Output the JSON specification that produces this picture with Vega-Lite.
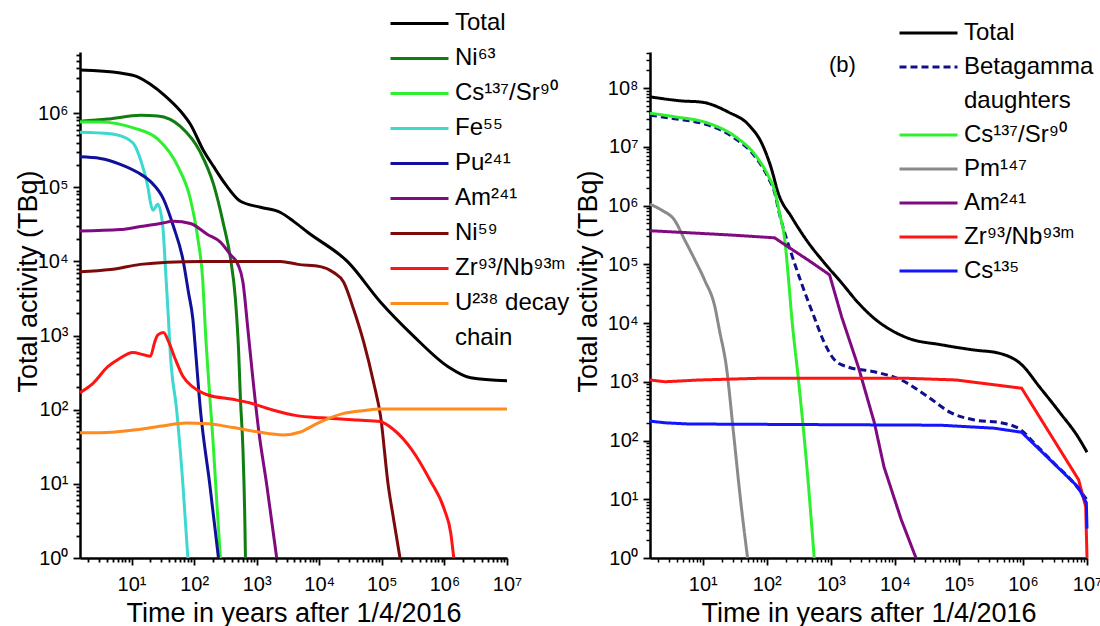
{
  "$schema": "https://vega.github.io/schema/vega-lite/v6.json",
  "background": "white",
  "autosize": {"type": "pad"},
  "padding": {"left": 14, "top": 7, "right": 0, "bottom": 0},
  "datasets": {
    "a": [
      {"s":"Total","t":1.5,"v":3.8e6},{"s":"Total","t":6.67,"v":3.47e6},{"s":"Total","t":12.5,"v":3.09e6},{"s":"Total","t":20,"v":2.45e6},{"s":"Total","t":34.7,"v":1.7e6},{"s":"Total","t":60.3,"v":1.07e6},{"s":"Total","t":87.1,"v":7.08e5},{"s":"Total","t":138,"v":3.24e5},{"s":"Total","t":204,"v":1.91e5},{"s":"Total","t":316,"v":1.1e5},{"s":"Total","t":550,"v":6.46e4},{"s":"Total","t":1148,"v":5.37e4},{"s":"Total","t":2399,"v":4.57e4},{"s":"Total","t":3890,"v":3.47e4},{"s":"Total","t":6607,"v":2.45e4},{"s":"Total","t":28840,"v":9770},{"s":"Total","t":95500,"v":2818},{"s":"Total","t":324000,"v":977},{"s":"Total","t":1148000,"v":380},{"s":"Total","t":2630000,"v":269},{"s":"Total","t":10000000,"v":245},
      {"s":"Ni⁶³","t":1.5,"v":7.76e5},{"s":"Ni⁶³","t":4.13,"v":8.32e5},{"s":"Ni⁶³","t":13.9,"v":9.33e5},{"s":"Ni⁶³","t":26.3,"v":9.12e5},{"s":"Ni⁶³","t":60.3,"v":6.61e5},{"s":"Ni⁶³","t":126,"v":2.95e5},{"s":"Ni⁶³","t":204,"v":1.1e5},{"s":"Ni⁶³","t":295,"v":3.16e4},{"s":"Ni⁶³","t":380,"v":1.12e4},{"s":"Ni⁶³","t":457,"v":3090},{"s":"Ni⁶³","t":513,"v":646},{"s":"Ni⁶³","t":550,"v":138},{"s":"Ni⁶³","t":603,"v":28.8},{"s":"Ni⁶³","t":646,"v":3.24},{"s":"Ni⁶³","t":661,"v":1},
      {"s":"Cs¹³⁷/Sr⁹⁰","t":1.5,"v":7.59e5},{"s":"Cs¹³⁷/Sr⁹⁰","t":3.16,"v":7.59e5},{"s":"Cs¹³⁷/Sr⁹⁰","t":10.7,"v":6.31e5},{"s":"Cs¹³⁷/Sr⁹⁰","t":26.3,"v":4.47e5},{"s":"Cs¹³⁷/Sr⁹⁰","t":55,"v":1.91e5},{"s":"Cs¹³⁷/Sr⁹⁰","t":87.1,"v":6.92e4},{"s":"Cs¹³⁷/Sr⁹⁰","t":115,"v":2.0e4},{"s":"Cs¹³⁷/Sr⁹⁰","t":138,"v":5250},{"s":"Cs¹³⁷/Sr⁹⁰","t":151,"v":1202},{"s":"Cs¹³⁷/Sr⁹⁰","t":170,"v":257},{"s":"Cs¹³⁷/Sr⁹⁰","t":200,"v":38.9},{"s":"Cs¹³⁷/Sr⁹⁰","t":229,"v":6.03},{"s":"Cs¹³⁷/Sr⁹⁰","t":263,"v":1},
      {"s":"Fe⁵⁵","t":1.5,"v":5.5e5},{"s":"Fe⁵⁵","t":4.57,"v":5.25e5},{"s":"Fe⁵⁵","t":8.71,"v":4.47e5},{"s":"Fe⁵⁵","t":11.5,"v":3.55e5},{"s":"Fe⁵⁵","t":13.8,"v":2.4e5},{"s":"Fe⁵⁵","t":18.2,"v":1.02e5},{"s":"Fe⁵⁵","t":20,"v":6.31e4},{"s":"Fe⁵⁵","t":21.9,"v":4.9e4},{"s":"Fe⁵⁵","t":26.3,"v":5.89e4},{"s":"Fe⁵⁵","t":31.6,"v":2.95e4},{"s":"Fe⁵⁵","t":34.7,"v":8510},{"s":"Fe⁵⁵","t":38.9,"v":1660},{"s":"Fe⁵⁵","t":41.7,"v":562},{"s":"Fe⁵⁵","t":52.5,"v":100},{"s":"Fe⁵⁵","t":66.1,"v":10},{"s":"Fe⁵⁵","t":79.4,"v":1},
      {"s":"Pu²⁴¹","t":1.5,"v":2.57e5},{"s":"Pu²⁴¹","t":3.16,"v":2.45e5},{"s":"Pu²⁴¹","t":6.61,"v":2.04e5},{"s":"Pu²⁴¹","t":12.6,"v":1.58e5},{"s":"Pu²⁴¹","t":20,"v":1.2e5},{"s":"Pu²⁴¹","t":32.4,"v":6.92e4},{"s":"Pu²⁴¹","t":46.8,"v":2.95e4},{"s":"Pu²⁴¹","t":66.1,"v":1.07e4},{"s":"Pu²⁴¹","t":81.3,"v":3800},{"s":"Pu²⁴¹","t":95.5,"v":1660},{"s":"Pu²⁴¹","t":105,"v":646},{"s":"Pu²⁴¹","t":126,"v":100},{"s":"Pu²⁴¹","t":178,"v":9.77},{"s":"Pu²⁴¹","t":245,"v":1},
      {"s":"Am²⁴¹","t":1.5,"v":2.57e4},{"s":"Am²⁴¹","t":6.61,"v":2.69e4},{"s":"Am²⁴¹","t":13.8,"v":2.95e4},{"s":"Am²⁴¹","t":28.8,"v":3.24e4},{"s":"Am²⁴¹","t":46.8,"v":3.47e4},{"s":"Am²⁴¹","t":87.1,"v":3.24e4},{"s":"Am²⁴¹","t":166,"v":2.29e4},{"s":"Am²⁴¹","t":263,"v":1.82e4},{"s":"Am²⁴¹","t":380,"v":1.23e4},{"s":"Am²⁴¹","t":501,"v":9120},{"s":"Am²⁴¹","t":603,"v":5250},{"s":"Am²⁴¹","t":724,"v":1202},{"s":"Am²⁴¹","t":871,"v":257},{"s":"Am²⁴¹","t":1072,"v":53.7},{"s":"Am²⁴¹","t":1445,"v":9.77},{"s":"Am²⁴¹","t":2089,"v":1},
      {"s":"Ni⁵⁹","t":1.5,"v":7244},{"s":"Ni⁵⁹","t":4.57,"v":7762},{"s":"Ni⁵⁹","t":13.8,"v":9120},{"s":"Ni⁵⁹","t":38,"v":9772},{"s":"Ni⁵⁹","t":126,"v":10000},{"s":"Ni⁵⁹","t":2399,"v":10000},{"s":"Ni⁵⁹","t":4571,"v":9120},{"s":"Ni⁵⁹","t":10470,"v":8511},{"s":"Ni⁵⁹","t":16980,"v":7079},{"s":"Ni⁵⁹","t":24550,"v":5248},{"s":"Ni⁵⁹","t":35480,"v":2239},{"s":"Ni⁵⁹","t":51290,"v":813},{"s":"Ni⁵⁹","t":74130,"v":229},{"s":"Ni⁵⁹","t":95500,"v":81.3},{"s":"Ni⁵⁹","t":126000,"v":9.77},{"s":"Ni⁵⁹","t":155000,"v":3.24},{"s":"Ni⁵⁹","t":195000,"v":1},
      {"s":"Zr⁹³/Nb⁹³ᵐ","t":1.5,"v":170},{"s":"Zr⁹³/Nb⁹³ᵐ","t":2.45,"v":229},{"s":"Zr⁹³/Nb⁹³ᵐ","t":4.17,"v":380},{"s":"Zr⁹³/Nb⁹³ᵐ","t":6.17,"v":479},{"s":"Zr⁹³/Nb⁹³ᵐ","t":10.5,"v":589},{"s":"Zr⁹³/Nb⁹³ᵐ","t":15.5,"v":550},{"s":"Zr⁹³/Nb⁹³ᵐ","t":20,"v":525},{"s":"Zr⁹³/Nb⁹³ᵐ","t":23.4,"v":813},{"s":"Zr⁹³/Nb⁹³ᵐ","t":26.3,"v":1023},{"s":"Zr⁹³/Nb⁹³ᵐ","t":32.4,"v":1096},{"s":"Zr⁹³/Nb⁹³ᵐ","t":38.9,"v":832},{"s":"Zr⁹³/Nb⁹³ᵐ","t":50.1,"v":479},{"s":"Zr⁹³/Nb⁹³ᵐ","t":66.1,"v":282},{"s":"Zr⁹³/Nb⁹³ᵐ","t":97.7,"v":200},{"s":"Zr⁹³/Nb⁹³ᵐ","t":166,"v":158},{"s":"Zr⁹³/Nb⁹³ᵐ","t":417,"v":138},{"s":"Zr⁹³/Nb⁹³ᵐ","t":794,"v":123},{"s":"Zr⁹³/Nb⁹³ᵐ","t":1738,"v":100},{"s":"Zr⁹³/Nb⁹³ᵐ","t":4365,"v":83.2},{"s":"Zr⁹³/Nb⁹³ᵐ","t":10960,"v":77.6},{"s":"Zr⁹³/Nb⁹³ᵐ","t":41690,"v":72.4},{"s":"Zr⁹³/Nb⁹³ᵐ","t":93300,"v":69.2},{"s":"Zr⁹³/Nb⁹³ᵐ","t":155000,"v":53.7},{"s":"Zr⁹³/Nb⁹³ᵐ","t":302000,"v":28.8},{"s":"Zr⁹³/Nb⁹³ᵐ","t":589000,"v":11.2},{"s":"Zr⁹³/Nb⁹³ᵐ","t":1000000,"v":4.47},{"s":"Zr⁹³/Nb⁹³ᵐ","t":1260000,"v":2.19},{"s":"Zr⁹³/Nb⁹³ᵐ","t":1410000,"v":1},
      {"s":"U²³⁸ decay","t":1.5,"v":49},{"s":"U²³⁸ decay","t":3.16,"v":49},{"s":"U²³⁸ decay","t":12,"v":53.7},{"s":"U²³⁸ decay","t":30.2,"v":60.3},{"s":"U²³⁸ decay","t":75.9,"v":66.1},{"s":"U²³⁸ decay","t":166,"v":64.6},{"s":"U²³⁸ decay","t":417,"v":57.5},{"s":"U²³⁸ decay","t":1047,"v":50.1},{"s":"U²³⁸ decay","t":2630,"v":45.7},{"s":"U²³⁸ decay","t":5012,"v":50.1},{"s":"U²³⁸ decay","t":8511,"v":63.1},{"s":"U²³⁸ decay","t":14790,"v":77.6},{"s":"U²³⁸ decay","t":24550,"v":89.1},{"s":"U²³⁸ decay","t":53700,"v":97.7},{"s":"U²³⁸ decay","t":93300,"v":102},{"s":"U²³⁸ decay","t":10000000,"v":102}
    ],
    "b": [
      {"s":"Total","t":1.5,"v":7.08e7},{"s":"Total","t":4.68,"v":6.03e7},{"s":"Total","t":9.55,"v":5.75e7},{"s":"Total","t":25.1,"v":3.89e7},{"s":"Total","t":52.5,"v":2.34e7},{"s":"Total","t":83.2,"v":1.15e7},{"s":"Total","t":117,"v":4.37e6},{"s":"Total","t":151,"v":1.62e6},{"s":"Total","t":245,"v":6.31e5},{"s":"Total","t":417,"v":2.57e5},{"s":"Total","t":794,"v":1.05e5},{"s":"Total","t":1479,"v":4.79e4},{"s":"Total","t":2692,"v":2.19e4},{"s":"Total","t":5129,"v":1.12e4},{"s":"Total","t":8710,"v":7586},{"s":"Total","t":16220,"v":5495},{"s":"Total","t":52480,"v":4266},{"s":"Total","t":174000,"v":3467},{"s":"Total","t":407000,"v":3090},{"s":"Total","t":955000,"v":1950},{"s":"Total","t":1820000,"v":813},{"s":"Total","t":3800000,"v":295},{"s":"Total","t":7240000,"v":115},{"s":"Total","t":10000000,"v":63.1},
      {"s":"Betagamma","t":1.5,"v":3.45e7},{"s":"Betagamma","t":3.63,"v":3.0e7},{"s":"Betagamma","t":12.3,"v":2.33e7},{"s":"Betagamma","t":31.6,"v":1.4e7},{"s":"Betagamma","t":69.2,"v":6.3e6},{"s":"Betagamma","t":107,"v":2.87e6},{"s":"Betagamma","t":132,"v":1.69e6},{"s":"Betagamma","t":158,"v":7.1e5},{"s":"Betagamma","t":191,"v":3.39e5},{"s":"Betagamma","t":245,"v":1.45e5},{"s":"Betagamma","t":347,"v":4.79e4},{"s":"Betagamma","t":550,"v":1.26e4},{"s":"Betagamma","t":794,"v":4571},{"s":"Betagamma","t":1148,"v":2344},{"s":"Betagamma","t":1862,"v":1778},{"s":"Betagamma","t":4786,"v":1479},{"s":"Betagamma","t":12590,"v":1072},{"s":"Betagamma","t":33110,"v":550},{"s":"Betagamma","t":75860,"v":295},{"s":"Betagamma","t":174000,"v":224},{"s":"Betagamma","t":457000,"v":200},{"s":"Betagamma","t":933000,"v":151},{"s":"Betagamma","t":1480000,"v":91.2},{"s":"Betagamma","t":3020000,"v":41.7},{"s":"Betagamma","t":5620000,"v":21.4},{"s":"Betagamma","t":10000000,"v":9.77},
      {"s":"Cs¹³⁷/Sr⁹⁰","t":1.5,"v":3.72e7},{"s":"Cs¹³⁷/Sr⁹⁰","t":3.63,"v":3.24e7},{"s":"Cs¹³⁷/Sr⁹⁰","t":12.3,"v":2.51e7},{"s":"Cs¹³⁷/Sr⁹⁰","t":31.6,"v":1.51e7},{"s":"Cs¹³⁷/Sr⁹⁰","t":69.2,"v":6.76e6},{"s":"Cs¹³⁷/Sr⁹⁰","t":107,"v":3.09e6},{"s":"Cs¹³⁷/Sr⁹⁰","t":132,"v":1.82e6},{"s":"Cs¹³⁷/Sr⁹⁰","t":158,"v":7.41e5},{"s":"Cs¹³⁷/Sr⁹⁰","t":191,"v":2.57e5},{"s":"Cs¹³⁷/Sr⁹⁰","t":219,"v":5.37e4},{"s":"Cs¹³⁷/Sr⁹⁰","t":245,"v":1.26e4},{"s":"Cs¹³⁷/Sr⁹⁰","t":316,"v":955},{"s":"Cs¹³⁷/Sr⁹⁰","t":417,"v":41.7},{"s":"Cs¹³⁷/Sr⁹⁰","t":550,"v":1},
      {"s":"Pm¹⁴⁷","t":1.5,"v":1.05e6},{"s":"Pm¹⁴⁷","t":2.29,"v":8.32e5},{"s":"Pm¹⁴⁷","t":3.63,"v":5.62e5},{"s":"Pm¹⁴⁷","t":5.25,"v":2.57e5},{"s":"Pm¹⁴⁷","t":7.59,"v":1.17e5},{"s":"Pm¹⁴⁷","t":10.7,"v":5.37e4},{"s":"Pm¹⁴⁷","t":15.5,"v":1.86e4},{"s":"Pm¹⁴⁷","t":18.2,"v":7586},{"s":"Pm¹⁴⁷","t":23.4,"v":1778},{"s":"Pm¹⁴⁷","t":30.2,"v":135},{"s":"Pm¹⁴⁷","t":38.9,"v":9.77},{"s":"Pm¹⁴⁷","t":50.1,"v":1},
      {"s":"Am²⁴¹","t":1.5,"v":3.72e5},{"s":"Am²⁴¹","t":7.59,"v":3.39e5},{"s":"Am²⁴¹","t":25.1,"v":3.16e5},{"s":"Am²⁴¹","t":132,"v":2.82e5},{"s":"Am²⁴¹","t":219,"v":1.95e5},{"s":"Am²⁴¹","t":447,"v":1.17e5},{"s":"Am²⁴¹","t":955,"v":6.61e4},{"s":"Am²⁴¹","t":1479,"v":1.26e4},{"s":"Am²⁴¹","t":2692,"v":1778},{"s":"Am²⁴¹","t":4786,"v":200},{"s":"Am²⁴¹","t":6761,"v":35.5},{"s":"Am²⁴¹","t":12590,"v":4.47},{"s":"Am²⁴¹","t":21380,"v":1},
      {"s":"Zr⁹³/Nb⁹³ᵐ","t":1.5,"v":1072},{"s":"Zr⁹³/Nb⁹³ᵐ","t":2.57,"v":1000},{"s":"Zr⁹³/Nb⁹³ᵐ","t":8.91,"v":1072},{"s":"Zr⁹³/Nb⁹³ᵐ","t":83.2,"v":1148},{"s":"Zr⁹³/Nb⁹³ᵐ","t":14450,"v":1148},{"s":"Zr⁹³/Nb⁹³ᵐ","t":91200,"v":1072},{"s":"Zr⁹³/Nb⁹³ᵐ","t":955000,"v":776},{"s":"Zr⁹³/Nb⁹³ᵐ","t":7410000,"v":21.4},{"s":"Zr⁹³/Nb⁹³ᵐ","t":9550000,"v":7.41},{"s":"Zr⁹³/Nb⁹³ᵐ","t":10000000,"v":1},
      {"s":"Cs¹³⁵","t":1.5,"v":214},{"s":"Cs¹³⁵","t":2.57,"v":200},{"s":"Cs¹³⁵","t":6.03,"v":191},{"s":"Cs¹³⁵","t":52480,"v":182},{"s":"Cs¹³⁵","t":355000,"v":162},{"s":"Cs¹³⁵","t":955000,"v":138},{"s":"Cs¹³⁵","t":7240000,"v":16.2},{"s":"Cs¹³⁵","t":9770000,"v":8.71},{"s":"Cs¹³⁵","t":10000000,"v":3.16}
    ]
  },
  "hconcat": [
    {
      "width": 427,
      "height": 506,
      "data": {"name": "a"},
      "mark": {"type": "line", "strokeWidth": 3, "interpolate": "monotone"},
      "encoding": {
        "x": {"field": "t", "type": "quantitative", "scale": {"type": "log", "domain": [1.5, 10000000], "nice": false},
          "axis": {"orient": "bottom", "grid": false, "domain": true, "ticks": true, "domainColor": "black", "domainWidth": 2.5, "tickColor": "black", "tickWidth": 1.8,
            "tickSize": {"condition": {"test": "abs(log(datum.value)/LN10 - round(log(datum.value)/LN10)) < 0.001", "value": 7}, "value": 4},
            "labelColor": "black", "labelFont": "Liberation Sans", "labelFontSize": 20, "labelFlush": false, "labelOverlap": false, "labelPadding": 9,
            "title": "Time in years after 1/4/2016", "titleFont": "Liberation Sans", "titleFontSize": 27, "titleFontWeight": "normal", "titleColor": "black", "titleY": 42, "titleBaseline": "top",
            "values": [2,3,4,5,6,7,8,9,10,20,30,40,50,60,70,80,90,100,200,300,400,500,600,700,800,900,1000,2000,3000,4000,5000,6000,7000,8000,9000,10000,20000,30000,40000,50000,60000,70000,80000,90000,100000,200000,300000,400000,500000,600000,700000,800000,900000,1000000,2000000,3000000,4000000,5000000,6000000,7000000,8000000,9000000,10000000],
            "labelExpr": "abs(log(datum.value)/LN10 - round(log(datum.value)/LN10)) < 0.001 ? '10' + ['⁰','¹','²','³','⁴','⁵','⁶','⁷','⁸','⁹'][round(log(datum.value)/LN10)] : ''"}},
        "y": {"field": "v", "type": "quantitative", "scale": {"type": "log", "domain": [1, 6670000], "nice": false},
          "axis": {"orient": "left", "grid": false, "domain": true, "ticks": true, "domainColor": "black", "domainWidth": 2.5, "tickColor": "black", "tickWidth": 1.8,
            "tickSize": {"condition": {"test": "abs(log(datum.value)/LN10 - round(log(datum.value)/LN10)) < 0.001", "value": 7}, "value": 4},
            "labelColor": "black", "labelFont": "Liberation Sans", "labelFontSize": 20, "labelFlush": false, "labelOverlap": false, "labelPadding": 5,
            "title": "Total activity (TBq)", "titleFont": "Liberation Sans", "titleFontSize": 27, "titleFontWeight": "normal", "titleColor": "black", "titleX": -38, "titleY": 229,
            "values": [1,2,3,4,5,6,7,8,9,10,20,30,40,50,60,70,80,90,100,200,300,400,500,600,700,800,900,1000,2000,3000,4000,5000,6000,7000,8000,9000,10000,20000,30000,40000,50000,60000,70000,80000,90000,100000,200000,300000,400000,500000,600000,700000,800000,900000,1000000,2000000,3000000,4000000,5000000,6000000],
            "labelExpr": "abs(log(datum.value)/LN10 - round(log(datum.value)/LN10)) < 0.001 ? '10' + ['⁰','¹','²','³','⁴','⁵','⁶','⁷','⁸','⁹'][round(log(datum.value)/LN10)] : ''"}},
        "color": {"field": "s", "type": "nominal",
          "scale": {"domain": ["Total","Ni⁶³","Cs¹³⁷/Sr⁹⁰","Fe⁵⁵","Pu²⁴¹","Am²⁴¹","Ni⁵⁹","Zr⁹³/Nb⁹³ᵐ","U²³⁸ decay","chain"],
                    "range": ["#000000","#0f7d0f","#2ef02e","#3dd8cf","#10109a","#800a80","#7d0a0a","#ff1414","#ff8a1e","rgba(0,0,0,0)"]},
          "legend": {"title": null, "orient": "none", "legendX": 309, "legendY": -45, "clipHeight": 32.9}}
      }
    },
    {
      "width": 437,
      "height": 506,
      "resolve": {"axis": {"x": "independent", "y": "independent"}},
      "layer": [
        {
          "data": {"name": "b"},
          "encoding": {
            "x": {"field": "t", "type": "quantitative", "scale": {"type": "log", "domain": [1.5, 10000000], "nice": false},
              "axis": {"orient": "bottom", "grid": false, "domainColor": "black", "domainWidth": 2.5, "tickColor": "black", "tickWidth": 1.8, "tickSize": 7, "labelColor": "black", "labelFont": "Liberation Sans", "labelFontSize": 20, "labelFlush": false, "labelOverlap": false, "labelPadding": 9,
                "title": "Time in years after 1/4/2016", "titleFont": "Liberation Sans", "titleFontSize": 27, "titleFontWeight": "normal", "titleColor": "black", "titleY": 42, "titleBaseline": "top",
                "values": [10,100,1000,10000,100000,1000000,10000000],
                "labelExpr": "'10' + ['⁰','¹','²','³','⁴','⁵','⁶','⁷','⁸','⁹'][round(log(datum.value)/LN10)]"}},
            "y": {"field": "v", "type": "quantitative", "scale": {"type": "log", "domain": [1, 410000000], "nice": false},
              "axis": {"orient": "left", "grid": false, "domainColor": "black", "domainWidth": 2.5, "tickColor": "black", "tickWidth": 1.8, "tickSize": 7, "labelColor": "black", "labelFont": "Liberation Sans", "labelFontSize": 20, "labelFlush": false, "labelOverlap": false, "labelPadding": 5,
                "title": "Total activity (TBq)", "titleFont": "Liberation Sans", "titleFontSize": 27, "titleFontWeight": "normal", "titleColor": "black", "titleX": -48, "titleY": 229,
                "values": [1,10,100,1000,10000,100000,1000000,10000000,100000000],
                "labelExpr": "'10' + ['⁰','¹','²','³','⁴','⁵','⁶','⁷','⁸','⁹'][round(log(datum.value)/LN10)]"}},
            "color": {"field": "s", "type": "nominal",
              "scale": {"domain": ["Total","Betagamma","daughters","Cs¹³⁷/Sr⁹⁰","Pm¹⁴⁷","Am²⁴¹","Zr⁹³/Nb⁹³ᵐ","Cs¹³⁵"],
                        "range": ["#000000","#10108c","rgba(0,0,0,0)","#2ef02e","#8a8a8a","#800a80","#ff1414","#1414ff"]},
              "legend": {"title": null, "orient": "none", "legendX": 248, "legendY": -35, "clipHeight": 31.8}},
            "strokeDash": {"field": "s", "type": "nominal",
              "scale": {"domain": ["Total","Betagamma","daughters","Cs¹³⁷/Sr⁹⁰","Pm¹⁴⁷","Am²⁴¹","Zr⁹³/Nb⁹³ᵐ","Cs¹³⁵"],
                        "range": [[1,0],[7,4],[1,0],[1,0],[1,0],[1,0],[1,0],[1,0]]},
              "legend": {"title": null, "orient": "none", "legendX": 248, "legendY": -35, "clipHeight": 31.8}}
          },
          "layer": [
            {"transform": [{"filter": {"field": "s", "oneOf": ["Total","Betagamma","Cs¹³⁷/Sr⁹⁰","Pm¹⁴⁷"]}}],
             "mark": {"type": "line", "strokeWidth": 3, "interpolate": "monotone"}},
            {"transform": [{"filter": {"field": "s", "oneOf": ["Am²⁴¹","Zr⁹³/Nb⁹³ᵐ","Cs¹³⁵"]}}],
             "mark": {"type": "line", "strokeWidth": 3}}
          ]
        },
        {
          "data": {"values": [{}]},
          "mark": {"type": "text", "fontSize": 22, "font": "Liberation Sans", "color": "#000", "align": "center", "baseline": "middle"},
          "encoding": {
            "x": {"datum": 1514, "type": "quantitative",
              "axis": {"orient": "bottom", "grid": false, "title": null, "labels": false, "domain": false, "tickColor": "black", "tickWidth": 1.5, "tickSize": 4,
                "values": [2,3,4,5,6,7,8,9,20,30,40,50,60,70,80,90,200,300,400,500,600,700,800,900,2000,3000,4000,5000,6000,7000,8000,9000,20000,30000,40000,50000,60000,70000,80000,90000,200000,300000,400000,500000,600000,700000,800000,900000,2000000,3000000,4000000,5000000,6000000,7000000,8000000,9000000]}},
            "y": {"datum": 245000000, "type": "quantitative",
              "axis": {"orient": "left", "grid": false, "title": null, "labels": false, "domain": false, "tickColor": "black", "tickWidth": 1.5, "tickSize": 4,
                "values": [2,3,4,5,6,7,8,9,20,30,40,50,60,70,80,90,200,300,400,500,600,700,800,900,2000,3000,4000,5000,6000,7000,8000,9000,20000,30000,40000,50000,60000,70000,80000,90000,200000,300000,400000,500000,600000,700000,800000,900000,2000000,3000000,4000000,5000000,6000000,7000000,8000000,9000000,20000000,30000000,40000000,50000000,60000000,70000000,80000000,90000000,200000000,300000000,400000000]}},
            "text": {"value": "(b)"}
          }
        }
      ]
    }
  ],
  "spacing": 143,
  "bounds": "flush",
  "resolve": {"scale": {"color": "independent", "strokeDash": "independent"}, "legend": {"color": "independent", "strokeDash": "independent"}},
  "config": {
    "view": {"stroke": null},
    "legend": {"symbolType": "stroke", "symbolSize": 3364, "symbolStrokeWidth": 3, "labelFont": "Liberation Sans", "labelFontSize": 24, "labelColor": "black", "labelOffset": 5, "rowPadding": 2, "labelLimit": 400}
  }
}
